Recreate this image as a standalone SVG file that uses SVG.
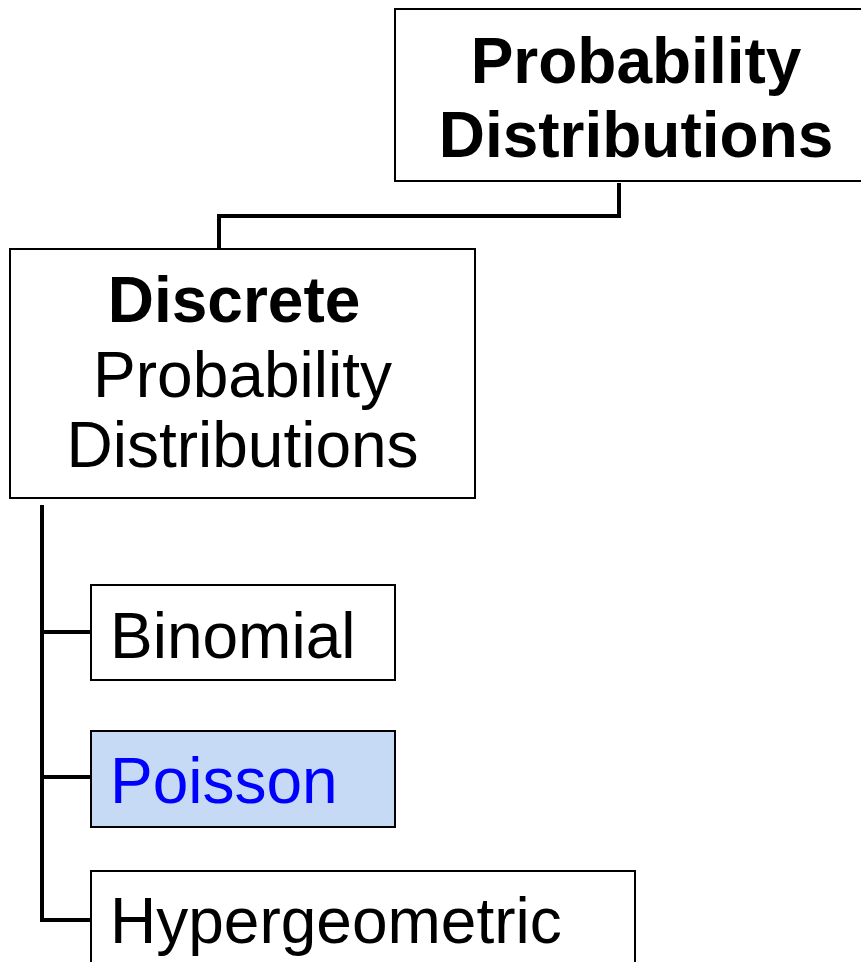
<svg xmlns="http://www.w3.org/2000/svg" width="861" height="962" viewBox="0 0 861 962">
<style>
.box{fill:#ffffff;stroke:#000000;stroke-width:2}
.hl{fill:#c6daf6;stroke:#000000;stroke-width:2}
.t{font-family:"Liberation Sans",Arial,sans-serif;font-size:64px;fill:#000000}
.b{font-weight:bold}
.blue{fill:#0000ff}
.c{fill:none;stroke:#000000;stroke-width:4;stroke-linecap:square;stroke-linejoin:miter}
</style>
<rect width="861" height="962" fill="#ffffff"/>
<g id="connectors">
<polyline class="c" points="619,185 619,216 219,216 219,247"/>
<polyline class="c" points="42,507 42,920 90,920"/>
<line class="c" x1="42" y1="632" x2="90" y2="632"/>
<line class="c" x1="42" y1="777" x2="90" y2="777"/>
</g>
<g id="node-probability-distributions">
<rect class="box" x="395" y="9" width="482" height="172"/>
<text class="t b" x="636" y="83" text-anchor="middle">Probability</text>
<text class="t b" x="636" y="157" text-anchor="middle">Distributions</text>
</g>
<g id="node-discrete">
<rect class="box" x="10" y="249" width="465" height="249"/>
<text class="t b" x="234" y="322" text-anchor="middle">Discrete</text>
<text class="t" x="242.5" y="397" text-anchor="middle">Probability</text>
<text class="t" x="242.5" y="467" text-anchor="middle">Distributions</text>
</g>
<g id="node-binomial">
<rect class="box" x="91" y="585" width="304" height="95"/>
<text class="t" x="110" y="658">Binomial</text>
</g>
<g id="node-poisson">
<rect class="hl" x="91" y="731" width="304" height="96"/>
<text class="t blue" x="110" y="803">Poisson</text>
</g>
<g id="node-hypergeometric">
<rect class="box" x="91" y="871" width="544" height="120"/>
<text class="t" x="110" y="943">Hypergeometric</text>
</g>
</svg>
